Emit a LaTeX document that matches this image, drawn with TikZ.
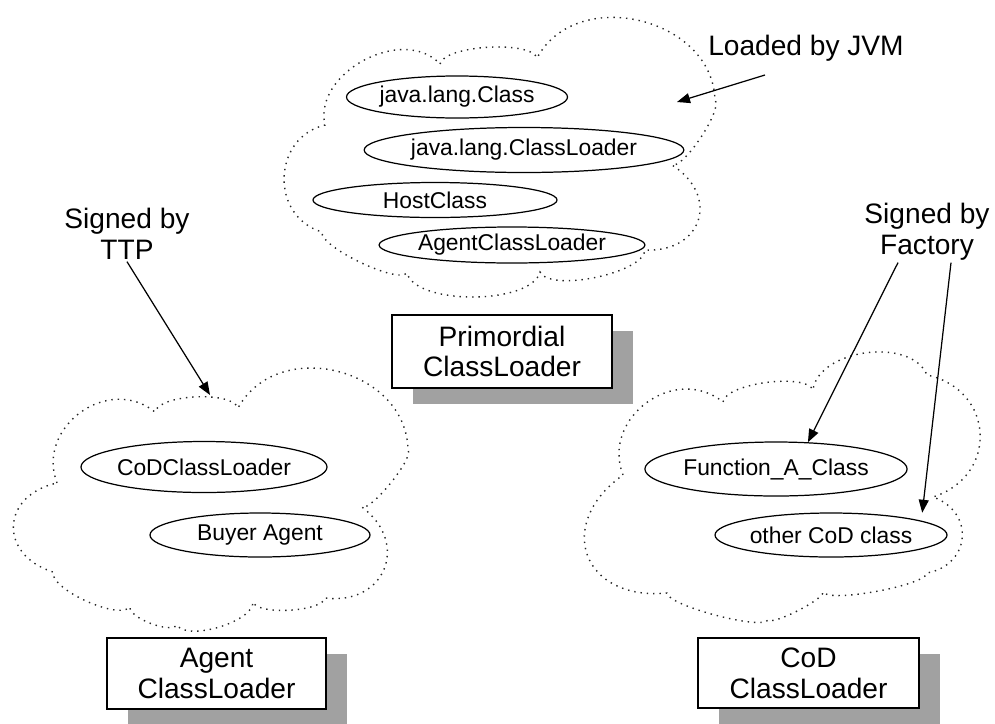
\documentclass[tikz,border=0pt]{standalone}
\usepackage{fontspec}
\setmainfont{Liberation Sans}
\usepackage{tikz}
\usetikzlibrary{shapes.geometric, shadows, arrows.meta}
\tikzstyle{Member}=[ellipse, draw=black, line width=0.7pt, inner sep=0pt, font=\fontsize{13}{15}\selectfont]
\tikzstyle{Loader}=[rectangle, draw=black, line width=0.9pt, fill=white, align=center, font=\fontsize{16}{17.5}\selectfont, drop shadow={shadow xshift=0.42cm, shadow yshift=-0.32cm, fill=black!37, opacity=1}]
\tikzstyle{Note}=[align=center, inner sep=1pt, font=\fontsize{16}{17.5}\selectfont]
\tikzstyle{Pointer}=[-{Triangle[length=0.26cm,width=0.2cm]}, line width=0.7pt]
\tikzstyle{Cloud}=[line width=0.8pt, dash pattern=on 0.8pt off 2.8pt, black!85]
\tikzset{puff/.style={bend left=75, looseness=#1}}

\begin{document}
\begin{tikzpicture}[x=2cm,y=2cm]
    \useasboundingbox (0,0) rectangle (9.95,-7.23);
    % the three class spaces
    \draw[Cloud] (4.40,-0.64) to[puff=0.5] (5.37,-0.58) to[puff=1.16] (7.15,-1.00) to[puff=0.4] (6.72,-1.65)
        to[puff=1.65] (6.45,-2.50) to[puff=0.55] (5.40,-2.72) to[puff=0.65] (4.07,-2.73) to[puff=0.4] (3.22,-2.32)
        to[puff=1.3] (3.25,-1.25) to[puff=1.06] (4.40,-0.64);
    \draw[Cloud] (0.57,-4.83) to[puff=1.27] (1.55,-4.12) to[puff=0.56] (2.38,-4.08) to[puff=1.2] (4.08,-4.50)
        to[puff=0.35] (3.62,-5.07) to[puff=1.58] (3.25,-5.98) to[puff=0.5] (2.53,-6.02) to[puff=0.63] (1.77,-6.25)
        to[puff=0.56] (1.30,-6.07) to[puff=0.53] (0.53,-5.72) to[puff=1.65] (0.57,-4.83);
    \draw[Cloud] (6.23,-4.75) to[puff=1.27] (7.23,-4.02) to[puff=0.53] (8.13,-3.90) to[puff=0.92] (9.27,-3.75)
        to[puff=1.45] (9.33,-4.97) to[puff=1.5] (9.27,-5.73) to[puff=0.3] (8.23,-5.92) to[puff=0.3] (7.68,-6.20)
        to[puff=0.3] (6.67,-5.93) to[puff=1.72] (6.23,-4.75);

    \path
    (4.57,-0.97) node[Member, minimum width=4.42cm, minimum height=0.84cm] (jclass) {java.lang.Class}
    (5.24,-1.50) node[Member, minimum width=5.30cm, minimum height=0.90cm] (jloader) {java.lang.ClassLoader}
    (4.35,-2.00) node[Member, minimum width=4.88cm, minimum height=0.70cm] (host) {HostClass}
    (5.12,-2.45) node[Member, minimum width=4.88cm, minimum height=0.72cm] (agentloader) {AgentClassLoader}
    (2.04,-4.67) node[Member, minimum width=4.84cm, minimum height=1.02cm] (codloader) {CoDClassLoader}
    (2.60,-5.35) node[Member, minimum width=4.40cm, minimum height=0.88cm] (buyer) {Buyer Agent}
    (7.76,-4.69) node[Member, minimum width=4.84cm, minimum height=1.08cm] (funcA) {Function\_A\_Class}
    (8.31,-5.35) node[Member, minimum width=4.64cm, minimum height=0.88cm] (othercod) {other CoD class};

    \path
    (5.02,-3.515) node[Loader, minimum width=4.40cm, minimum height=1.46cm] (primordial) {Primordial\\ClassLoader}
    (2.165,-6.735) node[Loader, minimum width=4.38cm, minimum height=1.42cm] (agent) {Agent\\ClassLoader}
    (8.085,-6.73) node[Loader, minimum width=4.42cm, minimum height=1.40cm] (cod) {CoD\\ClassLoader};

    \path (8.06,-0.48) node[Note] (jvm) {Loaded by JVM}
    (1.27,-2.34) node[Note] (ttp) {Signed by\\TTP}
    (9.27,-2.32) node[Note] (factory) {Signed by\\Factory};

    \coordinate (jvmfrom) at (7.65,-0.75);
    \coordinate (jvmto) at (6.77,-1.02);
    \coordinate (ttpto) at (2.10,-3.95);
    \draw[Pointer] (jvmfrom) -- (jvmto);
    \draw[Pointer] (ttp.south) -- (ttpto);
    \draw[Pointer] ([xshift=-0.58cm]factory.south) -- (funcA.40);
    \draw[Pointer, shorten >=0.16cm] ([xshift=0.48cm]factory.south) -- (othercod.9.5);
\end{tikzpicture}
\end{document}
